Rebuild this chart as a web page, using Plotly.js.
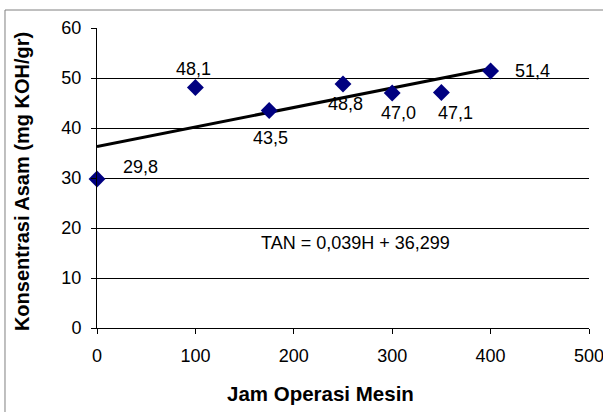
<!DOCTYPE html>
<html><head><meta charset="utf-8">
<script src="https://cdn.plot.ly/plotly-3.0.1.min.js"></script>
<style>html,body{margin:0;padding:0;background:#fff;}#chart{width:603px;height:412px;}</style>
</head><body><div id="chart"></div>
<script>
const hours = [0, 100, 175, 250, 300, 350, 400];
const tan = [29.8, 48.1, 43.5, 48.8, 47.0, 47.1, 51.4];
const slope = 0.039, intercept = 36.299;
const trendX = [0, 400];
const equationText = 'TAN = 0,039H + 36,299';
const equationPos = [263, 17];
const xTitle = 'Jam Operasi Mesin';
const yTitle = 'Konsentrasi Asam (mg KOH/gr)';
const xTicks = [0, 100, 200, 300, 400, 500];
const yTicks = [0, 10, 20, 30, 40, 50, 60];
// label offsets in pixels (style only)
const labelDX = [43, -2, 1, 2, 6, 14, 42];
const labelDY = [-12, -19, 27, 20, 20, 20, 0];

const fmt = v => v.toFixed(1).replace('.', ',');
const font = {family: 'Liberation Sans, Arial, sans-serif', color: '#000'};

const traces = [
  {x: trendX, y: trendX.map(h => slope*h + intercept), mode: 'lines',
   line: {color: '#000', width: 3}, hoverinfo: 'skip', showlegend: false},
  {x: hours, y: tan, mode: 'markers', cliponaxis: false,
   marker: {symbol: 'diamond', size: 13, color: '#000080'}, showlegend: false}
];

const annotations = hours.map((h, i) => ({
  x: h, y: tan[i], text: fmt(tan[i]), showarrow: false,
  xshift: labelDX[i], yshift: -labelDY[i], font: {...font, size: 18}
}));
annotations.push({x: equationPos[0], y: equationPos[1], text: equationText, showarrow: false, font: {...font, size: 18}});
annotations.push({xref: 'paper', yref: 'paper', x: 0.455, y: -0.217, xanchor: 'center', yanchor: 'middle',
  text: '<b>' + xTitle + '</b>', showarrow: false, font: {...font, size: 20.5}});
annotations.push({xref: 'paper', yref: 'paper', x: -0.152, y: 0.487, xanchor: 'center', yanchor: 'middle',
  text: '<b>' + yTitle + '</b>', textangle: -90, showarrow: false, font: {...font, size: 20}});

const layout = {
  width: 603, height: 412,
  margin: {l: 97, r: 14, t: 28, b: 84},
  paper_bgcolor: '#fff', plot_bgcolor: '#fff',
  font: font,
  xaxis: {range: [0, 500], tickvals: xTicks, showgrid: false, zeroline: false,
    showline: true, linecolor: '#000', linewidth: 1, ticks: 'outside', ticklen: 5, tickcolor: '#000',
    tickfont: {...font, size: 18}, ticklabelstandoff: 6, ticklabeloverflow: 'allow'},
  yaxis: {range: [0, 60], tickvals: yTicks, showgrid: true, gridcolor: '#000', gridwidth: 1, zeroline: false,
    showline: true, linecolor: '#000', linewidth: 1, ticks: 'outside', ticklen: 5, tickcolor: '#000',
    tickfont: {...font, size: 18}, ticklabelstandoff: 6, ticklabeloverflow: 'allow'},
  annotations: annotations,
  shapes: [{type: 'rect', xref: 'paper', yref: 'paper', x0: -0.187, x1: 1.2, y0: -0.5, y1: 1.06,
    line: {color: '#808080', width: 1}, layer: 'below'}]
};
Plotly.newPlot('chart', traces, layout, {displayModeBar: false, staticPlot: true});
</script></body></html>
